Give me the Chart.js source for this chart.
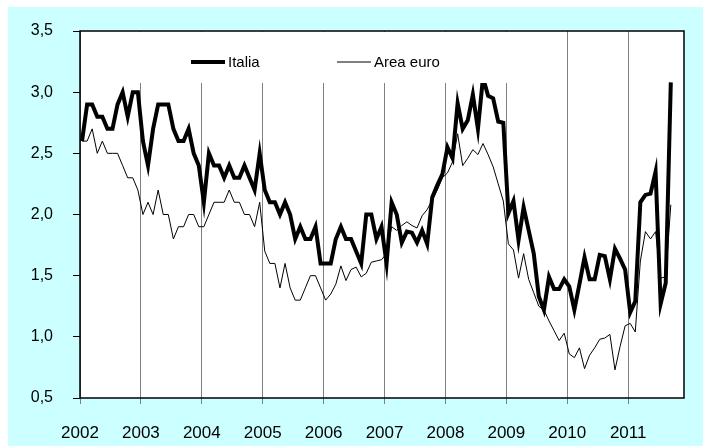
<!DOCTYPE html>
<html>
<head>
<meta charset="utf-8">
<script src="https://cdn.jsdelivr.net/npm/chart.js@4/dist/chart.umd.min.js"></script>
<style>
  body { margin: 0; background: #fff; }
  #wrap { width: 703px; height: 446px; }
</style>
</head>
<body>
<div id="wrap"><canvas id="chart" width="703" height="446"></canvas></div>
<script>
// monthly values, Jan 2002 .. Sep 2011
const yearLabels = ['2002', '2003', '2004', '2005', '2006', '2007', '2008', '2009', '2010', '2011'];
const seriesNames = ['Italia', 'Area euro'];

const italia = [
  2.6, 2.9, 2.9, 2.8, 2.8, 2.7, 2.7, 2.9, 3.0, 2.8, 3.0, 3.0,
  2.6, 2.4, 2.7, 2.9, 2.9, 2.9, 2.7, 2.6, 2.6, 2.7, 2.5, 2.4,
  2.1, 2.5, 2.4, 2.4, 2.3, 2.4, 2.3, 2.3, 2.4, 2.3, 2.2, 2.5,
  2.2, 2.1, 2.1, 2.0, 2.1, 2.0, 1.8, 1.9, 1.8, 1.8, 1.9, 1.6,
  1.6, 1.6, 1.8, 1.9, 1.8, 1.8, 1.7, 1.6, 2.0, 2.0, 1.8, 1.9,
  1.6, 2.1, 2.0, 1.77, 1.86, 1.85, 1.77, 1.87, 1.76, 2.14, 2.24, 2.33,
  2.55, 2.46, 2.91, 2.70, 2.77, 2.98, 2.70, 3.12, 2.97, 2.95, 2.76, 2.75,
  2.01, 2.11, 1.79, 2.06, 1.87, 1.68, 1.33, 1.22, 1.49, 1.39, 1.39, 1.47,
  1.41, 1.22, 1.43, 1.65, 1.47, 1.47, 1.67, 1.66, 1.47, 1.72, 1.64, 1.55,
  1.20, 1.29, 2.10, 2.16, 2.17, 2.35, 1.27, 1.44, 3.08
];

const areaEuro = [
  2.6, 2.6, 2.7, 2.5, 2.6, 2.5, 2.5, 2.5, 2.4, 2.3, 2.3, 2.2,
  2.0, 2.1, 2.0, 2.2, 2.0, 2.0, 1.8, 1.9, 1.9, 2.0, 2.0, 1.9,
  1.9, 2.0, 2.1, 2.1, 2.1, 2.2, 2.1, 2.1, 2.0, 2.0, 1.9, 2.1,
  1.7, 1.6, 1.6, 1.4, 1.6, 1.4, 1.3, 1.3, 1.4, 1.5, 1.5, 1.4,
  1.3, 1.35, 1.43, 1.58, 1.46, 1.55, 1.57, 1.49, 1.52, 1.61, 1.62, 1.63,
  1.68, 1.90, 1.87, 1.91, 1.94, 1.91, 1.89, 1.99, 2.04, 2.12, 2.2, 2.3,
  2.34, 2.43, 2.66, 2.40, 2.46, 2.53, 2.49, 2.58, 2.49, 2.39, 2.25, 2.11,
  1.76, 1.71, 1.48, 1.68, 1.47, 1.36, 1.25, 1.22, 1.13, 1.05, 0.97, 1.03,
  0.86, 0.83, 0.91, 0.74, 0.85, 0.91, 0.98, 0.99, 1.02, 0.73, 0.92, 1.09,
  1.11, 1.04, 1.62, 1.86, 1.80, 1.86, 1.48, 1.49, 2.08
];

Chart.defaults.font.family = "'Liberation Sans', Arial, sans-serif";
Chart.defaults.color = '#000';

// each month plotted a little after the start of its month
const toPoints = arr => arr.map((v, i) => ({ x: i + 0.4, y: v }));

const frame = {
  id: 'frame',
  beforeDraw(chart) {
    const ctx = chart.ctx, a = chart.chartArea;
    ctx.save();
    ctx.fillStyle = '#fff';
    ctx.fillRect(0, 0, chart.width, chart.height);
    ctx.fillStyle = '#ccffff';
    ctx.fillRect(8, 7, chart.width - 8, chart.height - 7);
    ctx.fillStyle = '#fff';
    ctx.fillRect(a.left, a.top, a.right - a.left, a.bottom - a.top);
    ctx.restore();
  },
  afterDatasetsDraw(chart) {
    const ctx = chart.ctx, a = chart.chartArea;
    ctx.save();
    // legend box (hides the top of the grid lines)
    ctx.fillStyle = '#fff';
    ctx.fillRect(a.left + 1, a.top + 1, 460, 51);
    const entries = [{ x: a.left + 111 }, { x: a.left + 257 }];
    const yMid = a.top + 31;
    ctx.font = "15px 'Liberation Sans', Arial, sans-serif";
    ctx.textBaseline = 'middle';
    chart.data.datasets.forEach((ds, k) => {
      const x0 = entries[k].x;
      ctx.strokeStyle = ds.borderColor;
      ctx.lineWidth = ds.borderWidth;
      ctx.beginPath();
      ctx.moveTo(x0, yMid);
      ctx.lineTo(x0 + 34, yMid);
      ctx.stroke();
      ctx.fillStyle = '#000';
      ctx.fillText(ds.label, x0 + 37, yMid + 1);
    });
    // plot border
    ctx.strokeStyle = '#000';
    ctx.lineWidth = 1.5;
    ctx.strokeRect(a.left, a.top, a.right - a.left, a.bottom - a.top);
    ctx.restore();
  }
};

new Chart(document.getElementById('chart'), {
  type: 'line',
  data: {
    datasets: [
      {
        label: seriesNames[0],
        data: toPoints(italia),
        borderColor: '#000',
        borderWidth: 4,
        pointRadius: 0,
        tension: 0,
        fill: false
      },
      {
        label: seriesNames[1],
        data: toPoints(areaEuro),
        borderColor: '#000',
        borderWidth: 1,
        pointRadius: 0,
        tension: 0,
        fill: false
      }
    ]
  },
  options: {
    responsive: false,
    animation: false,
    layout: { padding: { left: 0, top: 31, right: 19, bottom: 0 } },
    plugins: {
      legend: { display: false },
      tooltip: { enabled: false }
    },
    scales: {
      x: {
        type: 'linear',
        min: 0,
        max: 119,
        afterBuildTicks: axis => {
          axis.ticks = yearLabels.map((y, k) => ({ value: k * 12 }));
        },
        afterFit: scale => { scale.height = 48; },
        grid: {
          color: '#808080',
          lineWidth: 1,
          tickLength: 6,
          tickColor: '#808080'
        },
        border: { display: false },
        ticks: {
          font: { size: 17 },
          padding: 19,
          maxRotation: 0,
          autoSkip: false,
          callback: (v, i) => yearLabels[i]
        }
      },
      y: {
        min: 0.5,
        max: 3.5,
        afterFit: scale => { scale.width = 80; },
        grid: {
          drawOnChartArea: false,
          tickLength: 7,
          tickColor: '#000'
        },
        border: { display: false },
        ticks: {
          stepSize: 0.5,
          font: { size: 16 },
          padding: 20,
          callback: v => v.toFixed(1).replace('.', ',')
        }
      }
    }
  },
  plugins: [frame]
});
</script>
</body>
</html>
